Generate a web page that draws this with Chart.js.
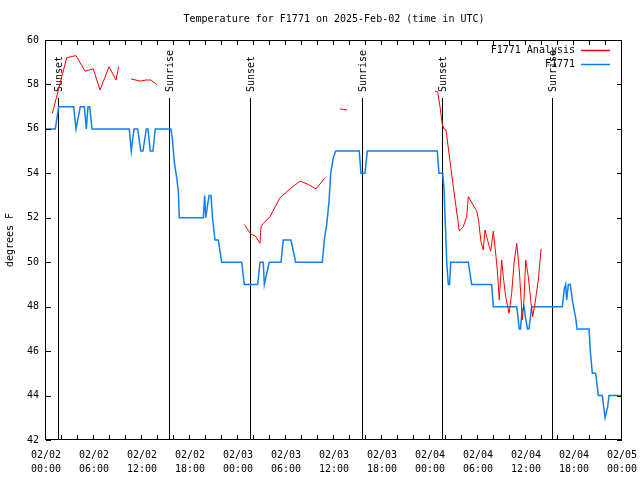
<!DOCTYPE html>
<html>
<head>
<meta charset="utf-8">
<script src="https://cdn.jsdelivr.net/npm/chart.js@4.4.1/dist/chart.umd.min.js"></script>
<style>
  html, body { margin: 0; padding: 0; background: #fff; }
  #wrap { width: 640px; height: 480px; }
</style>
</head>
<body>
<div id="wrap"><canvas id="chart" width="640" height="480"></canvas></div>
<script>
// hours since 2025-02-02 00:00 UTC
const obsHours = [0, 1.16, 1.59, 3.46, 3.75, 4.29, 4.79, 5.04, 5.25, 5.46, 5.75,
  10.41, 10.66, 11.0, 11.46, 11.84, 12.12, 12.54, 12.75, 13.04, 13.37, 13.66,
  15.62, 15.81, 16.04, 16.34, 16.54, 16.66,
  19.66, 19.84, 19.96, 20.13, 20.38, 20.63, 20.81, 21.12, 21.54, 21.96,
  24.46, 24.79, 26.46, 26.75, 27.16, 27.29, 27.59, 27.91, 29.38, 29.66, 30.62, 31.21,
  34.54, 34.79, 35.09, 35.37, 35.59, 35.91, 36.21, 39.16, 39.37, 39.87, 40.16,
  48.91, 49.12, 49.59, 49.75, 49.91, 50.09, 50.29, 50.44, 50.59, 52.79, 53.21,
  55.71, 55.91, 58.84, 59.16, 59.31, 59.5, 59.75, 59.94, 60.19, 60.37, 60.71,
  64.54, 64.79, 64.96, 65.09, 65.29, 65.54, 65.79, 66.04, 66.21, 66.38,
  67.88, 68.04, 68.29, 68.71, 68.88, 69.04, 69.54, 69.71, 69.88, 70.21, 70.37, 72];
const obsTemps = [56, 56, 57, 57, 56, 57, 57, 56, 57, 57, 56,
  56, 55, 56, 56, 55, 55, 56, 56, 55, 55, 56,
  56, 55.5, 54.5, 53.8, 53.2, 52,
  52, 53, 52, 52.4, 53, 53, 52, 51, 51, 50,
  50, 49, 49, 50, 50, 49, 49.5, 50, 50, 51, 51, 50,
  50, 51, 51.7, 52.7, 54, 54.7, 55, 55, 54, 54, 55,
  55, 54, 54, 53.3, 51.8, 50, 49, 49, 50, 50, 49,
  49, 48, 48, 47, 47, 47.8, 48, 47.5, 47, 47, 48,
  48, 48.8, 49, 48.3, 49, 49, 48.3, 47.8, 47.5, 47,
  47, 46, 45, 45, 44.5, 44, 44, 43.5, 43, 43.5, 44, 44];

// analysis series, null = no analysis
const anaHours = [0.79, 2.59, 3.75, 4.88, 5.91, 6.75, 7.88, 8.75, 9.09, 10,
  10.63, 11.75, 12.5, 13.09, 13.84, 20,
  24.79, 25.63, 26.13, 26.75, 26.88, 27.17, 28.0, 29.25, 30.5, 31.75, 32.79, 33.75, 34.88, 36,
  36.75, 37.66, 42,
  48.63, 48.96, 49.25, 49.54, 49.75, 50.0, 50.5, 50.91, 51.25, 51.66, 52.16, 52.59, 52.79,
  53.84, 54.04, 54.38, 54.66, 54.88, 55.09, 55.41, 55.59, 55.91, 56.25, 56.41, 56.66,
  56.96, 57.16, 57.46, 57.88, 58.21, 58.5, 58.84, 59.16, 59.54, 59.75, 59.96, 60.29,
  60.63, 60.84, 61.13, 61.54, 61.88];
const anaTemps = [56.7, 59.2, 59.3, 58.6, 58.7, 57.75, 58.8, 58.2, 58.8, null,
  58.25, 58.15, 58.2, 58.2, 58.0, null,
  51.7, 51.25, 51.2, 50.85, 51.6, 51.75, 52.05, 52.9, 53.3, 53.65, 53.5, 53.3, 53.8, null,
  56.9, 56.85, null,
  57.7, 57.67, 57.0, 56.2, 56.0, 55.95, 54.55, 53.4, 52.5, 51.4, 51.6, 52.05, 52.95,
  52.3, 51.95, 50.9, 50.55, 51.45, 51.15, 50.7, 50.5, 51.4, 50.25, 49.65, 48.3,
  50.1, 49.35, 48.45, 47.7, 48.6, 49.95, 50.85, 49.65, 47.4, 48.3, 50.1, 49.35,
  48.15, 47.55, 48.15, 49.2, 50.6];

const eventHours = [1.54, 15.41, 25.56, 39.44, 49.56, 63.29];
const eventNames = ['Sunset', 'Sunrise', 'Sunset', 'Sunrise', 'Sunset', 'Sunrise'];

const FONT = 'DejaVu Sans Mono';
const RED = '#ff0000';
const BLUE = '#1080f0';

const pad2 = (n) => String(n).padStart(2, '0');

const gnuFrame = {
  id: 'gnuFrame',
  beforeDatasetsDraw(chart) {
    const { ctx, chartArea, scales } = chart;
    ctx.save();
    ctx.strokeStyle = '#000';
    ctx.lineWidth = 1;
    ctx.fillStyle = '#000';
    ctx.font = `10px "${FONT}"`;
    eventHours.forEach((h, i) => {
      const px = Math.round(scales.x.getPixelForValue(h)) + 0.5;
      ctx.beginPath();
      ctx.moveTo(px, 98);
      ctx.lineTo(px, chartArea.bottom);
      ctx.stroke();
      ctx.save();
      ctx.translate(px + 1, 92);
      ctx.rotate(-Math.PI / 2);
      ctx.textAlign = 'left';
      ctx.textBaseline = 'middle';
      ctx.fillText(eventNames[i], 0, 0);
      ctx.restore();
    });
    ctx.restore();
  },
  afterDraw(chart) {
    const { ctx, chartArea, scales } = chart;
    const { left, right, top, bottom } = chartArea;
    ctx.save();
    ctx.strokeStyle = '#000';
    ctx.lineWidth = 1;
    ctx.strokeRect(left - 0.5, top + 0.5, right - left, bottom - top - 1);
    ctx.beginPath();
    for (let h = 0; h <= 72; h += 2) {
      const px = Math.round(scales.x.getPixelForValue(h)) - 0.5;
      ctx.moveTo(px, bottom); ctx.lineTo(px, bottom - 5);
      ctx.moveTo(px, top); ctx.lineTo(px, top + 5);
    }
    for (let v = 42; v <= 60; v += 2) {
      const py = Math.round(scales.y.getPixelForValue(v)) + 0.5;
      ctx.moveTo(left, py); ctx.lineTo(left + 5, py);
      ctx.moveTo(right, py); ctx.lineTo(right - 5, py);
    }
    ctx.stroke();

    // legend, gnuplot style: text then sample line
    ctx.font = `10px "${FONT}"`;
    ctx.fillStyle = '#000';
    ctx.textAlign = 'right';
    ctx.textBaseline = 'middle';
    const rows = [['F1771 Analysis', RED, 50], ['F1771', BLUE, 64]];
    rows.forEach(([label, color, y]) => {
      ctx.fillText(label, 575, y);
      ctx.strokeStyle = color;
      ctx.lineWidth = 1.5;
      ctx.beginPath();
      ctx.moveTo(581, y + 0.5);
      ctx.lineTo(610, y + 0.5);
      ctx.stroke();
    });
    ctx.restore();
  }
};

new Chart(document.getElementById('chart'), {
  type: 'line',
  data: {
    datasets: [
      {
        label: 'F1771 Analysis',
        data: anaHours.map((h, i) => ({ x: h, y: anaTemps[i] })),
        borderColor: RED,
        borderWidth: 1,
        pointRadius: 0,
        tension: 0,
        spanGaps: false,
      },
      {
        label: 'F1771',
        data: obsHours.map((h, i) => ({ x: h, y: obsTemps[i] })),
        borderColor: BLUE,
        borderWidth: 1.5,
        pointRadius: 0,
        tension: 0,
      },
    ],
  },
  options: {
    responsive: false,
    animation: false,
    layout: { padding: { left: 0, right: 18, top: 0, bottom: 0 } },
    plugins: {
      legend: { display: false },
      tooltip: { enabled: false },
      title: {
        display: true,
        fullSize: false,
        text: 'Temperature for F1771 on 2025-Feb-02 (time in UTC)',
        color: '#000',
        font: { family: FONT, size: 10, weight: 'normal' },
        padding: { top: 13, bottom: 15 },
      },
    },
    scales: {
      x: {
        type: 'linear',
        min: 0,
        max: 72,
        grid: { display: false, drawTicks: false },
        border: { display: false },
        ticks: {
          stepSize: 6,
          autoSkip: false,
          maxRotation: 0,
          padding: 8,
          color: '#000',
          font: { family: FONT, size: 10, lineHeight: 1.4 },
          callback: (v) => {
            const day = 2 + Math.floor(v / 24);
            return ['02/' + pad2(day), pad2(v % 24) + ':00'];
          },
        },
        afterFit: (scale) => {
          scale.height = 40;
          scale.paddingLeft = 0;
          scale.paddingRight = 0;
        },
      },
      y: {
        min: 42,
        max: 60,
        grid: { display: false, drawTicks: false },
        border: { display: false },
        ticks: {
          stepSize: 2,
          padding: 7,
          color: '#000',
          font: { family: FONT, size: 10 },
        },
        title: {
          display: true,
          text: 'degrees F',
          color: '#000',
          font: { family: FONT, size: 10 },
          padding: { top: 4, bottom: 0 },
        },
        afterFit: (scale) => { scale.width = 46; },
      },
    },
  },
  plugins: [gnuFrame],
});
</script>
</body>
</html>
